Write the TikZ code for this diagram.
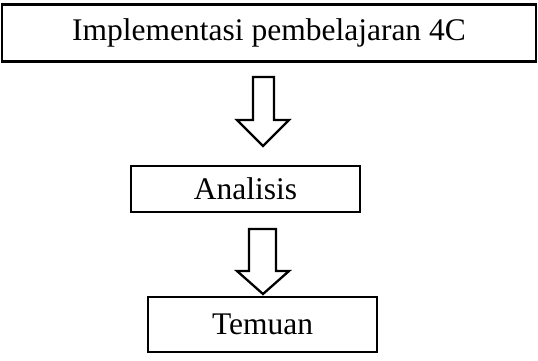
\documentclass[tikz,border=0pt]{standalone}
\usepackage{fontspec}
\setmainfont{Liberation Serif}
\usepackage{tikz}

\begin{document}
\begin{tikzpicture}[x=1pt, y=-1pt, every node/.style={font=\fontsize{31.5}{36}\selectfont},
	stagebox/.style={draw, line width=2.3pt, inner sep=0pt, minimum width=#1},
	hollowarrow/.style={draw, line width=2.3pt, line join=miter, fill=white}]
	\useasboundingbox (0,0) rectangle (538,361);
	\node[stagebox=534, minimum height=57] (impl) at (269,33) {Implementasi pembelajaran 4C};
	\node[stagebox=229, minimum height=46] (analisis) at (245.5,189) {Analisis};
	\node[stagebox=229, minimum height=55] (temuan) at (262.5,324.5) {Temuan};
	% hollow block arrows between the stages
	\coordinate (tipA) at (263,146);
	\coordinate (tipB) at (263,294);
	\draw[hollowarrow] (253,77) -- (274,77) -- (274,120) -- (289,120) -- (tipA) -- (237,120) -- (253,120) -- cycle;
	\draw[hollowarrow] (249,229) -- (276,229) -- (276,271) -- (289,271) -- (tipB) -- (237,271) -- (249,271) -- cycle;
\end{tikzpicture}
\end{document}
